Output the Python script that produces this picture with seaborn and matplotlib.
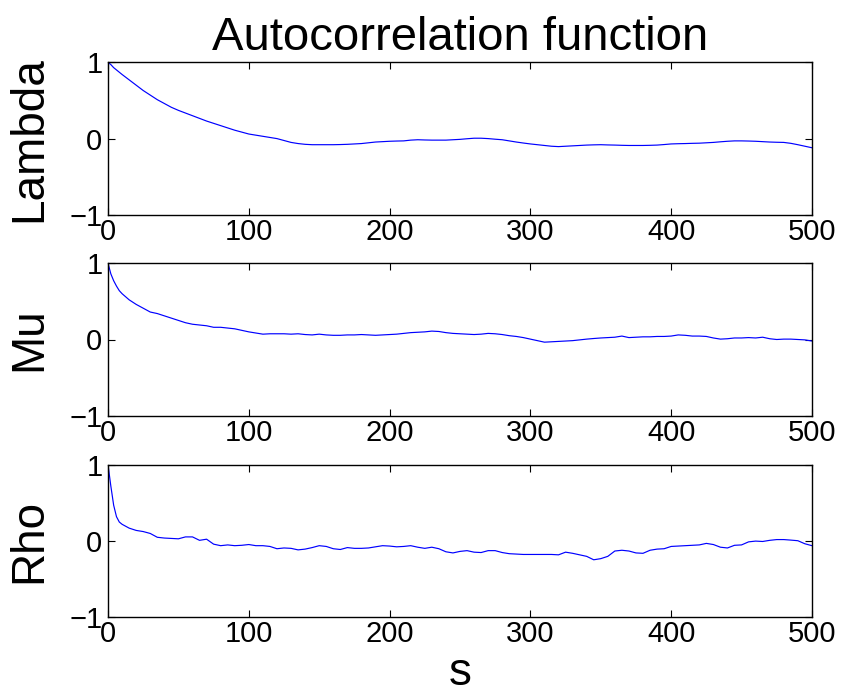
import numpy as np
import pandas as pd
import matplotlib
matplotlib.use("Agg")
import matplotlib.pyplot as plt
import seaborn as sns

# ==========================================
# Data
# ==========================================

lags = [0, 2, 4, 6, 8,
        10, 15, 20, 25, 30, 35, 40, 45, 50, 55, 60, 65, 70, 75, 80, 85, 90, 95,
        100, 105, 110, 115, 120, 125, 130, 135, 140, 145, 150, 155, 160, 165, 170, 175, 180, 185, 190, 195,
        200, 205, 210, 215, 220, 225, 230, 235, 240, 245, 250, 255, 260, 265, 270, 275, 280, 285, 290, 295,
        300, 305, 310, 315, 320, 325, 330, 335, 340, 345, 350, 355, 360, 365, 370, 375, 380, 385, 390, 395,
        400, 405, 410, 415, 420, 425, 430, 435, 440, 445, 450, 455, 460, 465, 470, 475, 480, 485, 490, 495,
        500]

lambda_acf = [1.0, 0.97, 0.93, 0.90, 0.87,
              0.84, 0.77, 0.70, 0.63, 0.57, 0.51, 0.46, 0.41, 0.37, 0.335, 0.30, 0.265, 0.23, 0.20, 0.17, 0.14, 0.11, 0.085,
              0.06, 0.045, 0.03, 0.015, 0.0, -0.025, -0.05, -0.065, -0.075, -0.08, -0.08, -0.08, -0.08, -0.078, -0.075, -0.07, -0.065, -0.055, -0.045, -0.04,
              -0.035, -0.032, -0.03, -0.02, -0.015, -0.018, -0.02, -0.02, -0.02, -0.015, -0.01, -0.002, 0.005, 0.005, 0.0, -0.008, -0.015, -0.03, -0.045, -0.058,
              -0.07, -0.08, -0.09, -0.1, -0.105, -0.1, -0.095, -0.09, -0.085, -0.082, -0.08, -0.083, -0.085, -0.088, -0.09, -0.09, -0.09, -0.088, -0.085, -0.078,
              -0.07, -0.067, -0.065, -0.062, -0.06, -0.055, -0.05, -0.042, -0.035, -0.03, -0.03, -0.032, -0.035, -0.04, -0.045, -0.048, -0.05, -0.062, -0.08, -0.1,
              -0.12]

mu_acf = [1.0, 0.86, 0.77, 0.70, 0.64,
          0.60, 0.52, 0.46, 0.41, 0.36, 0.34, 0.31, 0.28, 0.25, 0.22, 0.20, 0.19, 0.18, 0.16, 0.16, 0.15, 0.14, 0.12,
          0.10, 0.085, 0.07, 0.075, 0.075, 0.075, 0.07, 0.075, 0.065, 0.06, 0.07, 0.06, 0.055, 0.055, 0.06, 0.06, 0.065, 0.06, 0.055, 0.06,
          0.065, 0.07, 0.08, 0.09, 0.095, 0.10, 0.11, 0.105, 0.09, 0.08, 0.075, 0.07, 0.065, 0.07, 0.08, 0.075, 0.065, 0.05, 0.04, 0.025,
          0.005, -0.015, -0.035, -0.03, -0.025, -0.02, -0.015, -0.005, 0.005, 0.013, 0.02, 0.025, 0.03, 0.045, 0.025, 0.03, 0.035, 0.035, 0.04, 0.04,
          0.045, 0.06, 0.055, 0.045, 0.045, 0.04, 0.02, 0.005, 0.01, 0.02, 0.02, 0.025, 0.02, 0.03, 0.01, 0.0, 0.005, 0.005, 0.0, -0.005,
          -0.02]

rho_acf = [1.0, 0.72, 0.47, 0.32, 0.25,
           0.22, 0.17, 0.14, 0.125, 0.10, 0.05, 0.04, 0.035, 0.03, 0.055, 0.055, 0.01, 0.025, -0.04, -0.06, -0.05, -0.06, -0.055,
           -0.045, -0.06, -0.06, -0.07, -0.1, -0.09, -0.095, -0.115, -0.105, -0.085, -0.06, -0.07, -0.1, -0.11, -0.085, -0.095, -0.095, -0.09, -0.075, -0.06,
           -0.065, -0.075, -0.07, -0.06, -0.08, -0.095, -0.08, -0.1, -0.14, -0.155, -0.135, -0.125, -0.145, -0.15, -0.125, -0.125, -0.15, -0.165, -0.17, -0.175,
           -0.175, -0.175, -0.175, -0.175, -0.18, -0.145, -0.16, -0.18, -0.2, -0.245, -0.23, -0.2, -0.13, -0.12, -0.13, -0.155, -0.16, -0.12, -0.105, -0.1,
           -0.07, -0.065, -0.06, -0.055, -0.05, -0.03, -0.045, -0.08, -0.09, -0.055, -0.05, -0.01, 0.0, -0.005, 0.01, 0.02, 0.02, 0.013, 0.005, -0.035,
           -0.06]

panel_names = ["Lambda", "Mu", "Rho"]
x_ticks = [0, 100, 200, 300, 400, 500]
y_ticks = [-1, 0, 1]

# ==========================================
# Style
# ==========================================

sns.set_style("white")
plt.rcParams["font.family"] = ["Liberation Sans", "DejaVu Sans"]
plt.rcParams["text.color"] = "black"
plt.rcParams["axes.labelcolor"] = "black"
plt.rcParams["xtick.color"] = "black"
plt.rcParams["ytick.color"] = "black"

fig = plt.figure(figsize=(8.44, 7.0), dpi=100)

left, width, height = 0.128, 0.834, 0.218
bottoms = [0.693, 0.406, 0.118]

series = [lambda_acf, mu_acf, rho_acf]

for i in range(3):
    ax = fig.add_axes([left, bottoms[i], width, height])
    frame = pd.DataFrame({"lag": lags, "acf": series[i]})
    sns.lineplot(data=frame, x="lag", y="acf", ax=ax, color="#0000ff", linewidth=0.85)

    ax.set_xlim(0, 500)
    ax.set_ylim(-1, 1)
    ax.set_xticks(x_ticks)
    ax.set_yticks(y_ticks)
    ax.tick_params(direction="in", length=5, width=0.8, labelsize=21,
                   bottom=True, left=True, top=True, right=True,
                   pad=2, colors="black")
    ax.tick_params(axis="y", pad=4)
    for spine in ax.spines.values():
        spine.set_color("black")
        spine.set_linewidth(1.0)

    ax.set_ylabel(panel_names[i], fontsize=33)
    ax.yaxis.set_label_coords(-0.08, 0.5)
    ax.set_xlabel("")

    if i == 0:
        ax.set_title("Autocorrelation function", fontsize=34, pad=9)
    if i == 2:
        ax.set_xlabel("s", fontsize=33, labelpad=2)

fig.savefig("out.png", dpi=100, facecolor="white")
